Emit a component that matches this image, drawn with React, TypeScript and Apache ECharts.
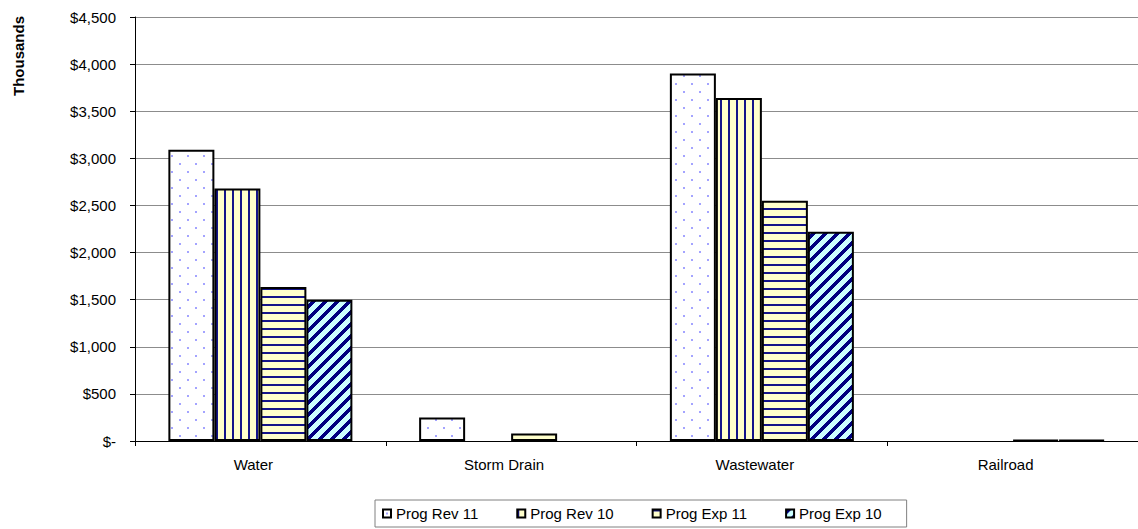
import React, { useEffect, useRef } from "react";
import * as echarts from "echarts";

const categories = ["Water", "Storm Drain", "Wastewater", "Railroad"];
const seriesNames = ["Prog Rev 11", "Prog Rev 10", "Prog Exp 11", "Prog Exp 10"];
const progRev11 = [3090, 250, 3900, 0];
const progRev10 = [2680, 0, 3640, 0];
const progExp11 = [1635, 80, 2550, 10];
const progExp10 = [1500, 0, 2220, 10];
const yMin = 0;
const yMax = 4500;
const yInterval = 500;

const FONT = "'Liberation Sans', Arial, sans-serif";
const NAVY = "#14148a";

function tile(w: number, h: number, bg: string, draw: (ctx: CanvasRenderingContext2D) => void) {
  const c = document.createElement("canvas");
  c.width = w;
  c.height = h;
  const ctx = c.getContext("2d") as CanvasRenderingContext2D;
  ctx.fillStyle = bg;
  ctx.fillRect(0, 0, w, h);
  draw(ctx);
  return { image: c, repeat: "repeat" } as any;
}

function makePatterns() {
  const dots = tile(16, 16, "#ffffff", (ctx) => {
    ctx.fillStyle = "#a4a4ff";
    ctx.fillRect(3, 3, 2, 2);
    ctx.fillRect(11, 11, 2, 2);
  });
  const vert = tile(8, 8, "#ffffcc", (ctx) => {
    ctx.fillStyle = NAVY;
    ctx.fillRect(0, 0, 2, 8);
  });
  const horiz = tile(8, 8, "#ffffcc", (ctx) => {
    ctx.fillStyle = NAVY;
    ctx.fillRect(0, 0, 8, 2);
  });
  const diag = tile(12, 12, "#ccffff", (ctx) => {
    ctx.fillStyle = "#000080";
    for (let x = 0; x < 12; x++) {
      for (let y = 0; y < 12; y++) {
        if ((x + y) % 12 < 5) ctx.fillRect(x, y, 1, 1);
      }
    }
  });
  return [dots, vert, horiz, diag];
}

export default function App() {
  const ref = useRef<HTMLDivElement>(null);
  useEffect(() => {
    if (!ref.current) return;
    const chart = echarts.init(ref.current, undefined, { renderer: "svg" });
    const patterns = makePatterns();
    const values = [progRev11, progRev10, progExp11, progExp10];
    chart.setOption({
      animation: false,
      backgroundColor: "#ffffff",
      textStyle: { fontFamily: FONT },
      grid: { left: 135, top: 17, width: 1012, height: 424 },
      legend: {
        left: 375,
        top: 500,
        orient: "horizontal",
        data: seriesNames,
        itemWidth: 8,
        itemHeight: 8,
        itemGap: 38,
        padding: [6, 25, 6, 7],
        borderColor: "#808080",
        borderWidth: 1,
        icon: "rect",
        textStyle: { fontFamily: FONT, fontSize: 15, color: "#000" },
      },
      xAxis: {
        type: "category",
        data: categories,
        axisLine: { lineStyle: { color: "#000", width: 1 } },
        axisTick: { show: true, length: 5, lineStyle: { color: "#000" } },
        axisLabel: {
          color: "#000",
          fontSize: 15,
          fontFamily: FONT,
          margin: 16,
          padding: [0, 14, 0, 0],
        },
        splitLine: { show: false },
      },
      yAxis: {
        type: "value",
        min: yMin,
        max: yMax,
        interval: yInterval,
        axisLine: { show: true, lineStyle: { color: "#000", width: 1 } },
        axisTick: { show: true, length: 5, lineStyle: { color: "#000" } },
        axisLabel: {
          color: "#000",
          fontSize: 15,
          fontFamily: FONT,
          margin: 19,
          formatter: (v: number) => (v === 0 ? "$-" : "$" + v.toLocaleString("en-US")),
        },
        splitLine: { show: true, lineStyle: { color: "#8c8c8c", width: 1 } },
      },
      graphic: [
        {
          type: "text",
          x: 18,
          y: 56,
          rotation: Math.PI / 2,
          style: {
            text: "Thousands",
            fontSize: 15,
            fontWeight: "bold",
            fontFamily: FONT,
            fill: "#000",
            align: "center",
            verticalAlign: "middle",
          },
        },
      ],
      series: seriesNames.map((name, i) => ({
        name,
        type: "bar",
        barWidth: 46,
        barGap: "0%",
        data: values[i].map((v) => (v === 0 ? "-" : v)),
        itemStyle: { color: patterns[i], borderColor: "#000", borderWidth: 2 },
        emphasis: { disabled: true },
      })),
    });
    return () => chart.dispose();
  }, []);
  return (
    <div
      ref={ref}
      style={{ position: "fixed", left: 0, top: 0, width: 1138, height: 529, overflow: "hidden" }}
    />
  );
}
